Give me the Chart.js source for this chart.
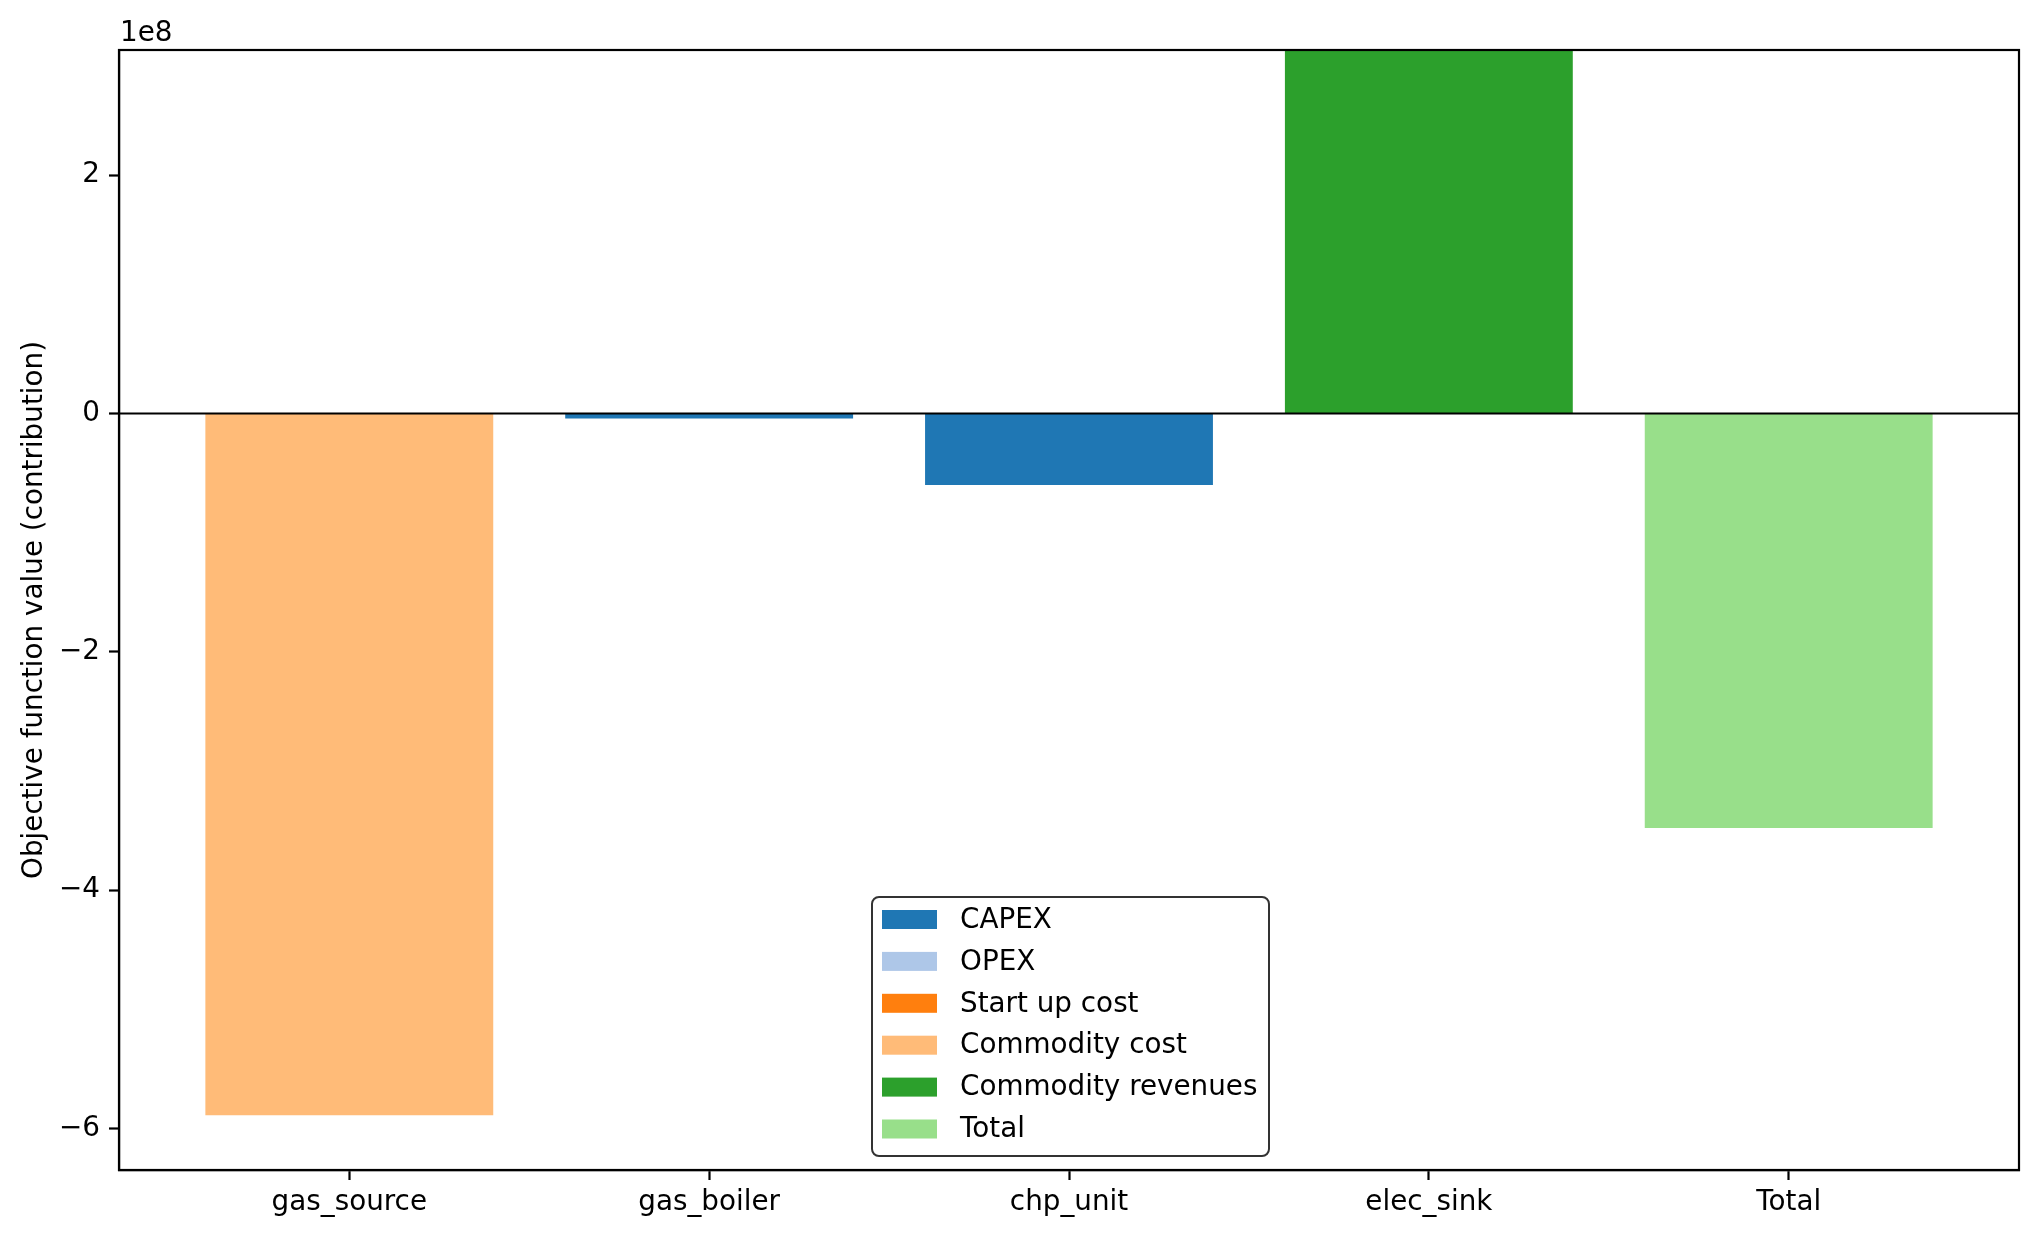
<!DOCTYPE html>
<html>
<head>
<meta charset="utf-8">
<script src="https://cdn.jsdelivr.net/npm/chart.js@4.4.1/dist/chart.umd.min.js"></script>
<style>
  body { margin: 0; background: #fff; }
  canvas { display: block; }
</style>
</head>
<body>
<canvas id="myChart" width="2040" height="1238"></canvas>
<script>
// data (values in plain units, axis shows 1e8)
const categories = ['gas_source', 'gas_boiler', 'chp_unit', 'elec_sink', 'Total'];
const capex = [0, -0.042e8, -0.60e8, 0, 0];
const opex = [0, 0, 0, 0, 0];
const startUpCost = [0, 0, 0, 0, 0];
const commodityCost = [-5.89e8, 0, 0, 0, 0];
const commodityRevenues = [0, 0, 0, 3.05e8, 0];
const total = [0, 0, 0, 0, -3.48e8];
const yTicks = [-6e8, -4e8, -2e8, 0, 2e8];

const FONT = 'DejaVu Sans';
const FS = 27.8;

function series(label, values, color) {
  return {
    label: label,
    data: values.map((v, i) => ({x: i, y: v})),
    backgroundColor: color,
    borderWidth: 0,
    categoryPercentage: 1,
    barPercentage: 0.8
  };
}

function minusFmt(n) {
  const s = String(Math.round(n * 100) / 100);
  return s.replace('-', '\u2212');
}

// frame, zero line, offset text and legend, drawn like matplotlib
const extras = {
  id: 'extras',
  afterDatasetsDraw(chart) {
    const ctx = chart.ctx;
    const a = chart.chartArea;
    const y0 = chart.scales.y.getPixelForValue(0);
    ctx.save();
    ctx.strokeStyle = '#000';
    ctx.lineWidth = 2;
    ctx.beginPath();
    ctx.moveTo(a.left, y0);
    ctx.lineTo(a.right, y0);
    ctx.stroke();
    ctx.lineWidth = 2.2;
    ctx.strokeRect(a.left, a.top, a.right - a.left, a.bottom - a.top);
    ctx.restore();
  },
  afterDraw(chart) {
    const ctx = chart.ctx;
    const a = chart.chartArea;
    ctx.save();
    ctx.fillStyle = '#000';
    ctx.font = FS + 'px "' + FONT + '"';
    ctx.textAlign = 'left';
    ctx.textBaseline = 'alphabetic';
    ctx.fillText('1e8', a.left + 1, a.top - 9);

    // legend box
    const bx = 872, by = 897, bw = 397, bh = 259, r = 7;
    ctx.beginPath();
    ctx.moveTo(bx + r, by);
    ctx.arcTo(bx + bw, by, bx + bw, by + bh, r);
    ctx.arcTo(bx + bw, by + bh, bx, by + bh, r);
    ctx.arcTo(bx, by + bh, bx, by, r);
    ctx.arcTo(bx, by, bx + bw, by, r);
    ctx.closePath();
    ctx.fillStyle = 'rgba(255,255,255,0.85)';
    ctx.fill();
    ctx.strokeStyle = '#333';
    ctx.lineWidth = 2;
    ctx.stroke();

    ctx.textBaseline = 'middle';
    chart.data.datasets.forEach((ds, i) => {
      const cy = 919.5 + i * 41.9;
      ctx.fillStyle = ds.backgroundColor;
      ctx.fillRect(882, cy - 9.5, 55, 19);
      ctx.fillStyle = '#000';
      ctx.fillText(ds.label, 960, cy + 1);
    });
    ctx.restore();
  }
};

let myChart = document.getElementById('myChart').getContext('2d');

let contribChart = new Chart(myChart, {
  type: 'bar',
  data: {
    datasets: [
      series('CAPEX', capex, '#1f77b4'),
      series('OPEX', opex, '#aec7e8'),
      series('Start up cost', startUpCost, '#ff7f0e'),
      series('Commodity cost', commodityCost, '#ffbb78'),
      series('Commodity revenues', commodityRevenues, '#2ca02c'),
      series('Total', total, '#98df8a')
    ]
  },
  options: {
    responsive: false,
    animation: false,
    layout: { padding: { left: 0, right: 21, top: 50, bottom: 0 } },
    plugins: {
      legend: { display: false },
      tooltip: { enabled: false }
    },
    scales: {
      x: {
        type: 'linear',
        stacked: true,
        offset: false,
        min: -0.64,
        max: 4.64,
        afterBuildTicks: (s) => { s.ticks = categories.map((c, i) => ({value: i})); },
        afterFit: (s) => { s.height = 68; },
        grid: {
          offset: false,
          drawOnChartArea: false,
          drawTicks: true,
          tickLength: 10,
          tickColor: '#000',
          tickWidth: 2.2
        },
        border: { display: true, color: '#000', width: 2.2 },
        ticks: {
          color: '#000',
          font: { family: FONT, size: FS },
          padding: 6,
          maxRotation: 0,
          autoSkip: false,
          callback: (v) => categories[v]
        }
      },
      y: {
        stacked: true,
        min: -6.35e8,
        max: 3.05e8,
        afterBuildTicks: (s) => { s.ticks = yTicks.map(v => ({value: v})); },
        afterFit: (s) => { s.width = 119; },
        grid: {
          drawOnChartArea: false,
          drawTicks: true,
          tickLength: 10,
          tickColor: '#000',
          tickWidth: 2.2
        },
        border: { display: true, color: '#000', width: 2.2 },
        ticks: {
          color: '#000',
          font: { family: FONT, size: FS },
          padding: 9,
          callback: (v) => minusFmt(v / 1e8)
        },
        title: {
          display: true,
          text: 'Objective function value (contribution)',
          color: '#000',
          font: { family: FONT, size: FS },
          padding: { top: 18, bottom: 0 }
        }
      }
    }
  },
  plugins: [extras]
});
</script>
</body>
</html>
